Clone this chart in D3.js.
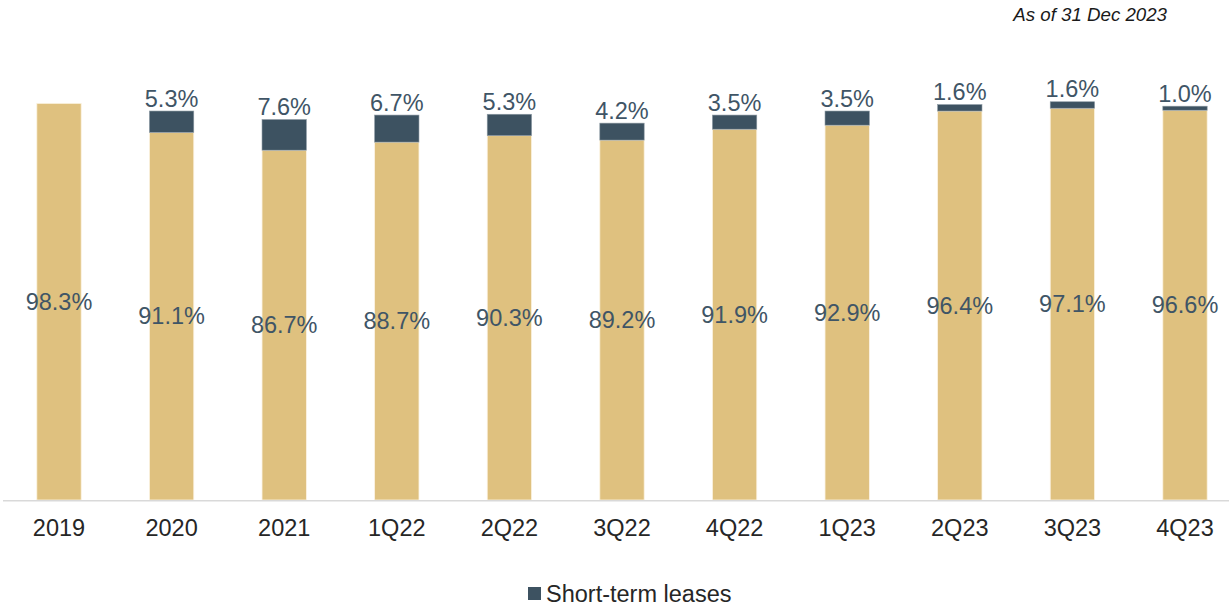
<!DOCTYPE html>
<html>
<head>
<meta charset="utf-8">
<script src="https://cdn.jsdelivr.net/npm/d3@7"></script>
<style>
  html, body { margin: 0; padding: 0; background: #ffffff; }
  svg { display: block; }
  text { font-family: "Liberation Sans", Arial, sans-serif; }
</style>
</head>
<body>
<svg id="chart" width="1229" height="607"></svg>
<script>
// Occupancy by period: long-term share and short-term leases share (%)
const categories = ["2019", "2020", "2021", "1Q22", "2Q22", "3Q22", "4Q22", "1Q23", "2Q23", "3Q23", "4Q23"];
const longTerm = [98.3, 91.1, 86.7, 88.7, 90.3, 89.2, 91.9, 92.9, 96.4, 97.1, 96.6];
const shortTerm = [null, 5.3, 7.6, 6.7, 5.3, 4.2, 3.5, 3.5, 1.6, 1.6, 1.0];
const legendLabel = "Short-term leases";
const noteText = "As of 31 Dec 2023";

const goldColor = "#dfc17f";
const slateColor = "#3d5261";
const labelColor = "#3f5566";

const svg = d3.select("#chart");

const baseY = 500;
const x = d3.scaleBand()
  .domain(categories)
  .range([2.7, 2.7 + 11 * 112.6])
  .paddingInner(0.606)
  .paddingOuter(0.303);

const y = d3.scaleLinear()
  .domain([0, 100])
  .range([baseY, baseY - 403.5]);

const rows = categories.map((c, i) => ({
  cat: c,
  lt: longTerm[i],
  st: shortTerm[i]
}));

// long-term segment
svg.append("g").selectAll("rect")
  .data(rows)
  .join("rect")
  .attr("x", d => x(d.cat))
  .attr("width", x.bandwidth())
  .attr("y", d => y(d.lt))
  .attr("height", d => y(0) - y(d.lt))
  .attr("fill", goldColor)
  .attr("stroke", "#fbf3e2")
  .attr("stroke-width", 0.8);

// short-term segment stacked on top
const stRows = rows.filter(d => d.st != null);
svg.append("g").selectAll("rect")
  .data(stRows)
  .join("rect")
  .attr("x", d => x(d.cat))
  .attr("width", x.bandwidth())
  .attr("y", d => y(d.lt + d.st))
  .attr("height", d => y(d.lt) - y(d.lt + d.st))
  .attr("fill", slateColor)
  .attr("stroke", "#8d9aa3")
  .attr("stroke-width", 0.6);

// baseline axis
const xAxis = d3.axisBottom(x).tickSize(0).tickPadding(19);
const axisG = svg.append("g")
  .attr("transform", `translate(0,${baseY})`)
  .call(xAxis);
axisG.select(".domain").remove();
axisG.selectAll("text")
  .attr("font-size", "23.5px")
  .attr("fill", "#262626")
  .attr("font-family", "'Liberation Sans', Arial, sans-serif");
svg.append("line")
  .attr("x1", 3).attr("x2", 1229)
  .attr("y1", baseY + 0.8).attr("y2", baseY + 0.8)
  .attr("stroke", "#d9d9d9")
  .attr("stroke-width", 1.6);

// labels inside long-term segment
svg.append("g").selectAll("text")
  .data(rows)
  .join("text")
  .attr("x", d => x(d.cat) + x.bandwidth() / 2)
  .attr("y", d => (y(d.lt) + y(0)) / 2)
  .attr("dy", "0.35em")
  .attr("text-anchor", "middle")
  .attr("font-size", "23.5px")
  .attr("fill", labelColor)
  .text(d => d.lt.toFixed(1) + "%");

// labels above short-term segment
svg.append("g").selectAll("text")
  .data(stRows)
  .join("text")
  .attr("x", d => x(d.cat) + x.bandwidth() / 2)
  .attr("y", d => y(d.lt + d.st) - 4.5)
  .attr("text-anchor", "middle")
  .attr("font-size", "23.5px")
  .attr("fill", labelColor)
  .text(d => d.st.toFixed(1) + "%");

// legend
const legend = svg.append("g").attr("transform", "translate(528,587)");
legend.append("rect")
  .attr("width", 13).attr("height", 13)
  .attr("fill", slateColor);
legend.append("text")
  .attr("x", 18).attr("y", 14.5)
  .attr("font-size", "23.5px")
  .attr("fill", "#262626")
  .text(legendLabel);

// date note
svg.append("text")
  .attr("x", 1167).attr("y", 21)
  .attr("text-anchor", "end")
  .attr("font-size", "18.7px")
  .attr("font-style", "italic")
  .attr("fill", "#1a1a1a")
  .text(noteText);
</script>
</body>
</html>
